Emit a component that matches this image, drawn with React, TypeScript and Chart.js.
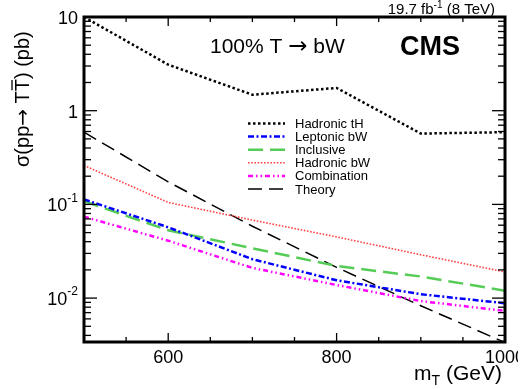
import React, { useEffect, useRef } from "react";
import { Chart, registerables } from "chart.js";
Chart.register(...registerables);

// ---- data ----
const masses = [500, 600, 700, 800, 900, 1000];
const hadronicTH = [10, 3.1, 1.48, 1.75, 0.57, 0.59];
const leptonicBW = [0.113, 0.057, 0.026, 0.0155, 0.011, 0.0088];
const inclusive = [0.108, 0.053, 0.034, 0.022, 0.017, 0.012];
const hadronicBW = [0.26, 0.105, 0.068, 0.045, 0.029, 0.019];
const combination = [0.074, 0.041, 0.021, 0.0138, 0.0093, 0.0073];
const theory = [0.59, 0.174, 0.0585, 0.0213, 0.00828, 0.00336];

const seriesLabels = ["Hadronic tH", "Leptonic bW", "Inclusive", "Hadronic bW", "Combination", "Theory"];

const xMin = 500;
const xMax = 1000;
const yMin = 0.0034;
const yMax = 10;
const xTickValues = [600, 800, 1000];
const xTickLabels = ["600", "800", "1000"];
const yTickValues = [10, 1, 0.1, 0.01];
const yTickBases = ["10", "1", "10", "10"];
const yTickExps = ["", "", "-1", "-2"];

const FONT = '"Liberation Sans", Arial, Helvetica, sans-serif';
const ARROW_FONT = '"DejaVu Sans", sans-serif';

function pts(vals: number[]) {
  return masses.map((m, i) => ({ x: m, y: vals[i] }));
}

// draw a sequence of [text, font] pieces starting at x, returns end x
function drawPieces(ctx: CanvasRenderingContext2D, pieces: [string, string][], x: number, y: number) {
  let cx = x;
  for (const [t, f] of pieces) {
    ctx.font = f;
    ctx.fillText(t, cx, y);
    cx += ctx.measureText(t).width;
  }
  return cx;
}

const decor = {
  id: "cmsDecor",
  afterDraw(chart: any) {
    const ctx = chart.ctx as CanvasRenderingContext2D;
    const { left, right, top, bottom } = chart.chartArea;
    const xs = chart.scales.x;
    const ys = chart.scales.y;
    ctx.save();
    ctx.strokeStyle = "#000";
    ctx.fillStyle = "#000";
    const seg = (x1: number, y1: number, x2: number, y2: number) => {
      ctx.beginPath();
      ctx.moveTo(x1, y1);
      ctx.lineTo(x2, y2);
      ctx.stroke();
    };
    // x ticks
    ctx.lineWidth = 1.3;
    for (let m = xMin; m <= xMax; m += 50) {
      const px = xs.getPixelForValue(m);
      const major = m % 200 === 0;
      const len = major ? 9 : 5;
      seg(px, bottom, px, bottom - len);
      seg(px, top, px, top + len);
    }
    // y ticks
    for (let e = -3; e <= 1; e++) {
      for (let k = 1; k <= 9; k++) {
        const v = k * Math.pow(10, e);
        if (v < yMin * 0.999 || v > yMax * 1.001) continue;
        const py = ys.getPixelForValue(v);
        const len = k === 1 ? 13 : 7;
        seg(left, py, left + len, py);
        seg(right, py, right - len, py);
      }
    }
    // frame
    ctx.lineWidth = 3;
    ctx.strokeRect(left, top, right - left, bottom - top);

    // x tick labels (right edge of the figure is cropped)
    ctx.save();
    ctx.beginPath();
    ctx.rect(0, 0, 518, 389);
    ctx.clip();
    ctx.font = `18px ${FONT}`;
    ctx.textAlign = "center";
    ctx.textBaseline = "alphabetic";
    xTickValues.forEach((v, i) => {
      ctx.fillText(xTickLabels[i], xs.getPixelForValue(v), bottom + 21);
    });
    ctx.restore();

    // y tick labels
    yTickValues.forEach((v, i) => {
      const py = ys.getPixelForValue(v) + 2;
      ctx.font = `18px ${FONT}`;
      const bw = ctx.measureText(yTickBases[i]).width;
      ctx.font = `12px ${FONT}`;
      const ew = yTickExps[i] ? ctx.measureText(yTickExps[i]).width : 0;
      const xEnd = left - 6;
      const xStart = xEnd - bw - ew;
      ctx.textAlign = "left";
      ctx.textBaseline = "middle";
      ctx.font = `18px ${FONT}`;
      ctx.fillText(yTickBases[i], xStart, py);
      if (yTickExps[i]) {
        ctx.font = `12px ${FONT}`;
        ctx.fillText(yTickExps[i], xStart + bw, py - 8);
      }
    });

    // x title
    ctx.textBaseline = "alphabetic";
    ctx.textAlign = "left";
    ctx.font = `21px ${FONT}`;
    const mW = ctx.measureText("m").width;
    const restW = ctx.measureText(" (GeV)").width;
    ctx.font = `14px ${FONT}`;
    const tW = ctx.measureText("T").width;
    const xtEnd = right - 3;
    const xt0 = xtEnd - mW - tW - restW;
    ctx.font = `21px ${FONT}`;
    ctx.fillText("m", xt0, 380);
    ctx.fillText(" (GeV)", xt0 + mW + tW, 380);
    ctx.font = `14px ${FONT}`;
    ctx.fillText("T", xt0 + mW, 385);

    // y title (rotated)
    ctx.save();
    ctx.translate(29, 167);
    ctx.rotate(-Math.PI / 2);
    const f20 = `20px ${FONT}`;
    let cx = drawPieces(ctx, [["σ(pp", f20], ["→", `20px ${ARROW_FONT}`], [" T", f20]], 0, 0);
    ctx.font = f20;
    const wT = ctx.measureText("T").width;
    ctx.fillText("T", cx, 0);
    ctx.lineWidth = 1.3;
    seg(cx + 1, -17, cx + wT - 1, -17);
    cx += wT;
    drawPieces(ctx, [[") (pb)", f20]], cx, 0);
    ctx.restore();

    // top right lumi
    ctx.font = `15px ${FONT}`;
    const a = "19.7 fb";
    const b = " (8 TeV)";
    const aw = ctx.measureText(a).width;
    const bwid = ctx.measureText(b).width;
    ctx.font = `10px ${FONT}`;
    const supw = ctx.measureText("-1").width;
    const lx = 495 - aw - supw - bwid;
    ctx.font = `15px ${FONT}`;
    ctx.fillText(a, lx, 14);
    ctx.fillText(b, lx + aw + supw, 14);
    ctx.font = `10px ${FONT}`;
    ctx.fillText("-1", lx + aw, 8);

    // in-plot texts
    const f21 = `21px ${FONT}`;
    drawPieces(ctx, [["100% T ", f21], ["→", `23px ${ARROW_FONT}`], [" bW", f21]], 210, 53);
    ctx.font = `bold 27px ${FONT}`;
    ctx.fillText("CMS", 400, 55);

    // legend
    const ds = chart.data.datasets;
    ctx.font = `13px ${FONT}`;
    ctx.textBaseline = "middle";
    ds.forEach((d: any, i: number) => {
      const y = 123.5 + i * 13.1;
      ctx.save();
      ctx.strokeStyle = d.borderColor;
      ctx.lineWidth = d.borderWidth;
      ctx.setLineDash(d.borderDash || []);
      seg(248, y, 285, y);
      ctx.restore();
      ctx.fillText(d.label, 295, y + 1);
    });
    ctx.restore();
  },
};

export default function App() {
  const ref = useRef<HTMLCanvasElement>(null);
  useEffect(() => {
    document.body.style.margin = "0";
    const chart = new Chart(ref.current!, {
      type: "line",
      data: {
        datasets: [
          { label: seriesLabels[0], data: pts(hadronicTH), borderColor: "#000000", borderWidth: 2.5, borderDash: [2.5, 2.5] },
          { label: seriesLabels[1], data: pts(leptonicBW), borderColor: "#0000ff", borderWidth: 2.5, borderDash: [6, 2.5, 2, 2.5] },
          { label: seriesLabels[2], data: pts(inclusive), borderColor: "#55cc55", borderWidth: 2.5, borderDash: [15, 7] },
          { label: seriesLabels[3], data: pts(hadronicBW), borderColor: "#ff4444", borderWidth: 1.6, borderDash: [1.6, 1.6] },
          { label: seriesLabels[4], data: pts(combination), borderColor: "#ff00ff", borderWidth: 2.5, borderDash: [5, 3, 1.5, 3, 1.5, 3] },
          { label: seriesLabels[5], data: pts(theory), borderColor: "#000000", borderWidth: 1.5, borderDash: [14, 7] },
        ].map((d) => ({ ...d, pointRadius: 0, tension: 0, fill: false })),
      },
      options: {
        responsive: false,
        animation: false,
        devicePixelRatio: 1,
        layout: { padding: { left: 84, right: 24, top: 17, bottom: 47 } },
        plugins: { legend: { display: false }, tooltip: { enabled: false } },
        scales: {
          x: { type: "linear", min: xMin, max: xMax, display: false },
          y: { type: "logarithmic", min: yMin, max: yMax, display: false },
        },
      },
      plugins: [decor],
    });
    return () => chart.destroy();
  }, []);
  return (
    <div style={{ position: "absolute", left: 0, top: 0, width: 529, height: 389, background: "#fff" }}>
      <canvas ref={ref} width={529} height={389} />
    </div>
  );
}
